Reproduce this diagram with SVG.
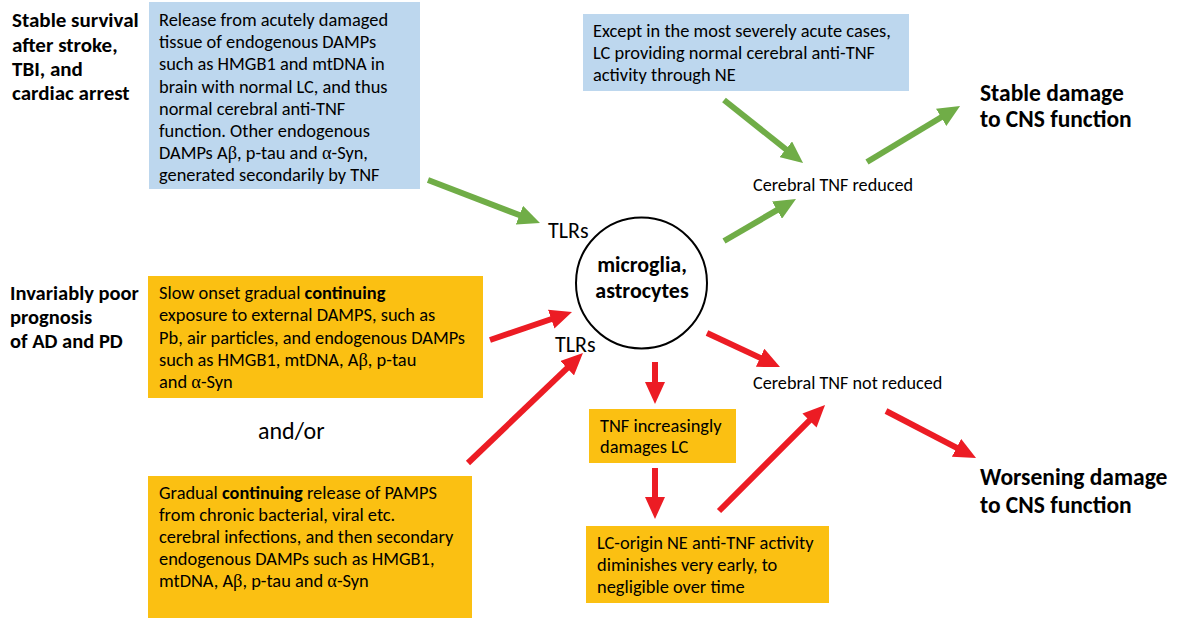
<svg xmlns="http://www.w3.org/2000/svg" width="1179" height="618" viewBox="0 0 1179 618">
<style>
text{font-family:Carlito,"Liberation Sans",Arial,sans-serif;fill:#000}
.b{font-size:18.4px}
.s{font-size:18.2px}
.lab{font-size:21px;font-weight:bold}
.lab2{font-size:20.5px;font-weight:bold}
.big{font-size:23.5px;font-weight:bold}
.g{font-family:"Liberation Serif",serif}
.blue{fill:#BDD7EE}
.org{fill:#FBC012}
.ag{stroke:#70AD47;stroke-width:6;fill:none}
.ar{stroke:#EC1C24;stroke-width:6;fill:none}
</style>
<defs>
<marker id="hg" markerUnits="userSpaceOnUse" markerWidth="22" markerHeight="20" refX="2" refY="10" orient="auto"><path d="M0,0 L22,10 L0,20 z" fill="#70AD47"/></marker>
<marker id="hr" markerUnits="userSpaceOnUse" markerWidth="22" markerHeight="20" refX="2" refY="10" orient="auto"><path d="M0,0 L22,10 L0,20 z" fill="#EC1C24"/></marker>
</defs>
<rect width="1179" height="618" fill="#fff"/>

<g id="label-stable">
<text class="lab" x="12" y="27">Stable survival</text>
<text class="lab" x="12" y="51.5">after stroke,</text>
<text class="lab" x="12" y="76">TBI, and</text>
<text class="lab" x="12" y="100">cardiac arrest</text>
</g>

<g id="box-acute">
<rect class="blue" x="149" y="2" width="271" height="187"/>
<text class="b" x="159" y="26">Release from acutely damaged</text>
<text class="b" x="159" y="48">tissue of endogenous DAMPs</text>
<text class="b" x="159" y="70">such as HMGB1 and mtDNA in</text>
<text class="b" x="159" y="93">brain with normal LC, and thus</text>
<text class="b" x="159" y="115">normal cerebral anti-TNF</text>
<text class="b" x="159" y="137">function.  Other endogenous</text>
<text class="b" x="159" y="159">DAMPs A<tspan class="g">β</tspan>, p-tau and <tspan class="g">α</tspan>-Syn,</text>
<text class="b" x="159" y="181">generated secondarily by TNF</text>
</g>

<g id="box-except">
<rect class="blue" x="583" y="14" width="326" height="77"/>
<text class="b" x="593" y="37">Except in the most severely acute cases,</text>
<text class="b" x="593" y="59">LC providing normal cerebral anti-TNF</text>
<text class="b" x="593" y="81">activity through NE</text>
</g>

<g id="label-stable-damage">
<text class="big" x="980" y="101">Stable damage</text>
<text class="big" x="980" y="127">to CNS function</text>
</g>

<g id="tnf-reduced">
<text class="s" x="753" y="191">Cerebral TNF reduced</text>
</g>

<g id="cells">
<circle cx="641.5" cy="283" r="65.5" fill="#fff" stroke="#000" stroke-width="2"/>
<text font-size="22" font-weight="bold" x="642" y="272" text-anchor="middle">microglia,</text>
<text font-size="22" font-weight="bold" x="642" y="298" text-anchor="middle">astrocytes</text>
</g>

<g id="tlrs-top"><text font-size="22" x="548" y="238">TLRs</text></g>
<g id="tlrs-bottom"><text font-size="22" x="555" y="352">TLRs</text></g>

<g id="label-ad">
<text class="lab2" x="10" y="300">Invariably poor</text>
<text class="lab2" x="10" y="324">prognosis</text>
<text class="lab2" x="10" y="348">of AD and PD</text>
</g>

<g id="box-slow">
<rect class="org" x="148" y="276" width="335" height="122"/>
<text class="b" x="159" y="299">Slow onset gradual <tspan font-weight="bold">continuing</tspan></text>
<text class="b" x="159" y="321">exposure to external DAMPS, such as</text>
<text class="b" x="159" y="343.5">Pb, air particles, and endogenous DAMPs</text>
<text class="b" x="159" y="366">such as HMGB1, mtDNA, A<tspan class="g">β</tspan>, p-tau</text>
<text class="b" x="159" y="388">and <tspan class="g">α</tspan>-Syn</text>
</g>

<g id="andor"><text font-size="24" x="258" y="439">and/or</text></g>

<g id="box-pamps">
<rect class="org" x="148" y="476" width="324" height="142"/>
<text class="b" x="159" y="499">Gradual <tspan font-weight="bold">continuing</tspan> release of PAMPS</text>
<text class="b" x="159" y="521">from chronic bacterial, viral etc.</text>
<text class="b" x="159" y="543">cerebral infections, and then secondary</text>
<text class="b" x="159" y="565">endogenous  DAMPs such as HMGB1,</text>
<text class="b" x="159" y="587">mtDNA, A<tspan class="g">β</tspan>, p-tau and <tspan class="g">α</tspan>-Syn</text>
</g>

<g id="box-tnf-lc">
<rect class="org" x="589" y="409" width="147" height="54"/>
<text class="b" x="600" y="432">TNF increasingly</text>
<text class="b" x="600" y="453">damages LC</text>
</g>

<g id="box-lc-origin">
<rect class="org" x="586" y="526" width="243" height="77"/>
<text class="b" x="597" y="549">LC-origin NE anti-TNF activity</text>
<text class="b" x="597" y="571">diminishes very early, to</text>
<text class="b" x="597" y="593">negligible over time</text>
</g>

<g id="tnf-not-reduced">
<text class="s" x="753" y="389">Cerebral TNF not reduced</text>
</g>

<g id="label-worsening">
<text class="big" x="980" y="485">Worsening damage</text>
<text class="big" x="980" y="513">to CNS function</text>
</g>

<g id="connectors">
<line class="ag" x1="428" y1="180" x2="521.3" y2="215.8" marker-end="url(#hg)"/>
<line class="ag" x1="724" y1="100" x2="787.4" y2="150.5" marker-end="url(#hg)"/>
<line class="ag" x1="724" y1="241" x2="778.7" y2="209.1" marker-end="url(#hg)"/>
<line class="ag" x1="867" y1="162" x2="942.9" y2="116.3" marker-end="url(#hg)"/>
<line class="ar" x1="490" y1="340" x2="553.1" y2="318.5" marker-end="url(#hr)"/>
<line class="ar" x1="468" y1="463" x2="568.5" y2="366.8" marker-end="url(#hr)"/>
<line class="ar" x1="707" y1="333" x2="761.9" y2="358.6" marker-end="url(#hr)"/>
<line class="ar" x1="655" y1="362" x2="655" y2="384" marker-end="url(#hr)"/>
<line class="ar" x1="655" y1="468" x2="655" y2="499" marker-end="url(#hr)"/>
<line class="ar" x1="719" y1="511" x2="810.9" y2="419.1" marker-end="url(#hr)"/>
<line class="ar" x1="886" y1="411" x2="958.3" y2="448.7" marker-end="url(#hr)"/>
</g>
</svg>
